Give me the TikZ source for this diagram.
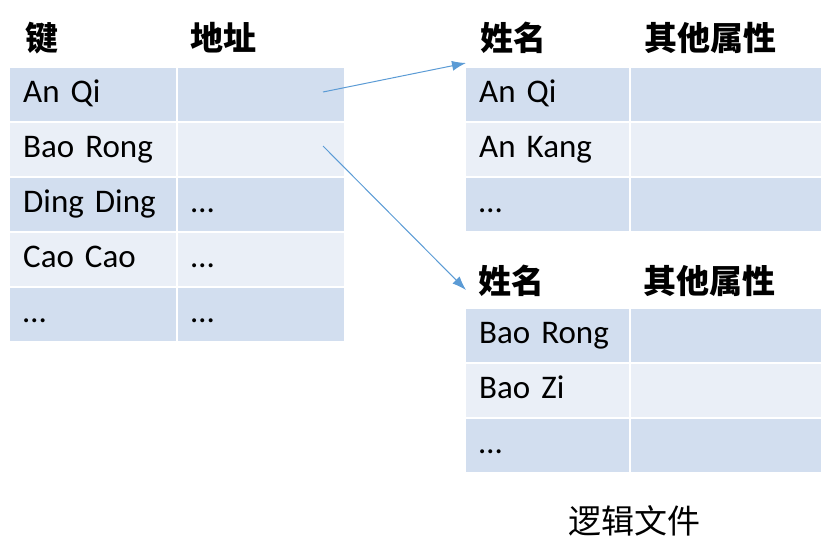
\documentclass[tikz,border=0pt]{standalone}
\usepackage{fontspec}
\setmainfont{Carlito}
\newfontfamily\cjk{Noto Sans CJK SC}
\usetikzlibrary{arrows.meta}

\definecolor{rowdark}{HTML}{D2DEEF}
\definecolor{rowlight}{HTML}{EAEFF7}
\definecolor{linkblue}{HTML}{5B9BD5}

\tikzset{
  cell/.style={anchor=north west, inner ysep=0pt, inner xsep=13pt, text width=#1,
    minimum height=53pt, text height=23pt, text depth=8pt, align=left,
    font=\fontsize{33pt}{40pt}\selectfont},
  head/.style={anchor=west, inner sep=0pt, font=\cjk\bfseries\fontsize{33pt}{40pt}\selectfont},
  link/.style={draw=linkblue, line width=1pt, -{Latex[length=14pt,width=10pt]}}
}

\begin{document}
\begin{tikzpicture}[x=1pt, y=-1pt]

        \useasboundingbox (0,0) rectangle (834,544);

        % Left: index table
        \node[head] (h-key) at (25,38) {键};
        \node[head] (h-addr) at (190,38) {地址};

        \foreach \n/\a/\c [count=\i] in {An Qi//rowdark, Bao Rong//rowlight,
            Ding Ding/…/rowdark, Cao Cao/…/rowlight, …/…/rowdark} {
            \node[cell=140pt, fill=\c] (key-\i) at (10,{68+55*(\i-1)}) {\n};
            \node[cell=140pt, fill=\c] (addr-\i) at (178,{68+55*(\i-1)}) {\a};
        }

        % Right: first logical file
        \node[head] (h-name-a) at (480,38) {姓名};
        \node[head] (h-attr-a) at (644,38) {其他属性};

        \foreach \n/\c [count=\i] in {An Qi/rowdark, An Kang/rowlight, …/rowdark} {
            \node[cell=137pt, fill=\c] (name-a-\i) at (466,{68+55*(\i-1)}) {\n};
            \node[cell=164pt, fill=\c] (attr-a-\i) at (631,{68+55*(\i-1)}) {};
        }

        % Right: second logical file
        \node[head] (h-name-b) at (478,281) {姓名};
        \node[head] (h-attr-b) at (643,281) {其他属性};

        \foreach \n/\c [count=\i] in {Bao Rong/rowdark, Bao Zi/rowlight, …/rowdark} {
            \node[cell=137pt, fill=\c] (name-b-\i) at (466,{309+55*(\i-1)}) {\n};
            \node[cell=164pt, fill=\c] (attr-b-\i) at (631,{309+55*(\i-1)}) {};
        }

        \node[font=\cjk\fontsize{33pt}{40pt}\selectfont] (caption) at (634,521) {逻辑文件};

        % Pointers
        \coordinate (from-a) at (323,92);
        \coordinate (to-a) at (466,63);
        \coordinate (from-b) at (323,146);
        \coordinate (to-b) at (466,290);

        \draw[link] (from-a) -- (to-a);
        \draw[link] (from-b) -- (to-b);

    \end{tikzpicture}
\end{document}
